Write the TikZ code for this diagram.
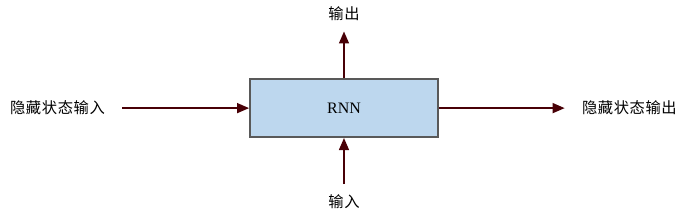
\documentclass[tikz,border=0pt]{standalone}
\usepackage{fontspec}
\setmainfont{Liberation Serif}
\newfontfamily\cjk[LetterSpace=4]{Noto Sans CJK SC}
\usetikzlibrary{arrows.meta,positioning}
\definecolor{bc}{RGB}{189,215,238}
\definecolor{ac}{RGB}{72,0,6}
\definecolor{dc}{RGB}{89,89,89}
\tikzset{r/.style={draw=dc,fill=bc,line width=1.1pt,minimum width=4.98cm,minimum height=1.54cm,font=\fontsize{12}{14}\selectfont},
 t/.style={inner xsep=4.5mm,inner ysep=2.7mm,font=\cjk\fontsize{11.5}{13}\selectfont},
 arr/.style={-{Triangle[length=3.2mm,width=2.6mm]},line width=1.5pt,draw=ac}}
\begin{document}
\begin{tikzpicture}
\useasboundingbox (-9.1,-2.91) rectangle (9.1,2.86);
\node[r] (rnn) at (0,0) {RNN};
\node[t,left=3.36cm of rnn] (hin) {隐藏状态输入};
\node[t,right=3.33cm of rnn] (hout) {隐藏状态输出};
\node[t,above=1.24cm of rnn] (out) {输出};
\node[t,below=1.22cm of rnn] (in) {输入};
\foreach \u/\v in {hin/rnn,rnn/hout,rnn/out,in/rnn}{\draw[arr] (\u)--(\v);}
\end{tikzpicture}
\end{document}
